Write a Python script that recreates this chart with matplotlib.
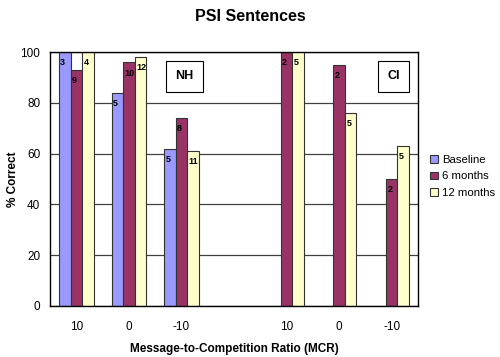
import numpy as np
import matplotlib.pyplot as plt

plt.rcParams['font.family'] = ['Liberation Sans', 'DejaVu Sans']

# -------------------------------------------------
# DATA
# -------------------------------------------------
mcr_labels = ["10", "0", "-10", "", "10", "0", "-10"]
series_names = ["Baseline", "6 months", "12 months"]
colors = ["#9999FF", "#993366", "#FFFFCC"]

# NaN = no bar (empty slot between NH and CI)
baseline = [100, 84, 62, np.nan, np.nan, np.nan, np.nan]
six_months = [93, 96, 74, np.nan, 100, 95, 50]
twelve_months = [100, 98, 61, np.nan, 100, 76, 63]

# number of listeners shown inside each bar
n_baseline = [3, 5, 5, None, None, None, None]
n_six = [9, 10, 8, None, 2, 2, 2]
n_twelve = [4, 12, 11, None, 5, 5, 5]

values = [baseline, six_months, twelve_months]
counts = [n_baseline, n_six, n_twelve]

# -------------------------------------------------
# PLOT
# -------------------------------------------------
fig = plt.figure(figsize=(5, 3.57), dpi=100)
ax = fig.add_axes([0.1, 0.143, 0.736, 0.711])

x = np.arange(len(mcr_labels))
width = 0.22

ax.set_axisbelow(True)
ax.yaxis.grid(True, color="#404040", linewidth=0.9)

for i, (vals, ns) in enumerate(zip(values, counts)):
    pos = x + (i - 1) * width
    ax.bar(pos, vals, width, color=colors[i], edgecolor="#333333",
           linewidth=0.8, label=series_names[i])
    for p, v, n in zip(pos, vals, ns):
        if n is None:
            continue
        ax.annotate(str(n), (p - width / 2, v), xytext=(1.0, -4.5),
                    textcoords="offset points", ha="left", va="top",
                    fontsize=6.5, fontweight="bold")

ax.set_xlim(-0.5, len(mcr_labels) - 0.5)
ax.set_ylim(0, 100)
ax.set_yticks(range(0, 101, 20))
ax.set_xticks(x)
ax.set_xticklabels(mcr_labels, fontsize=8.5)
ax.tick_params(axis="x", length=0, pad=11)
ax.tick_params(axis="y", length=0, labelsize=8.5, pad=7)

for s in ax.spines.values():
    s.set_color("black")
    s.set_linewidth(1)

ax.set_ylabel("% Correct", fontsize=8.5, fontweight="bold", labelpad=1)
ax.set_xlabel("Message-to-Competition Ratio (MCR)", fontsize=8.5,
              fontweight="bold", labelpad=7)
fig.suptitle("PSI Sentences", fontsize=11.5, fontweight="bold", y=0.975)

# group boxes
for label, xc in [("NH", 2.05), ("CI", 6.04)]:
    ax.text(xc, 90.5, label, ha="center", va="center", fontsize=9,
            fontweight="bold",
            bbox=dict(boxstyle="square,pad=0.75", fc="white", ec="black", lw=0.8))

ax.legend(loc="center left", bbox_to_anchor=(1.02, 0.51), frameon=False,
          fontsize=8.2, handlelength=0.7, handleheight=0.7,
          handletextpad=0.4, labelspacing=0.6, borderaxespad=0)

fig.savefig("out.png", dpi=100)
